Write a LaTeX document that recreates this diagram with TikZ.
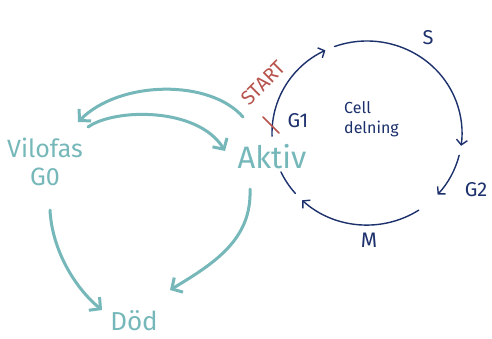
\documentclass[tikz,border=0pt]{standalone}
\usepackage{fontspec}
\setmainfont{Fira Sans}
\usetikzlibrary{arrows.meta}
\definecolor{teal1}{RGB}{118,184,186}
\definecolor{navy1}{RGB}{28,48,108}
\definecolor{red1}{RGB}{184,84,78}
\tikzset{
  tlabel/.style={text=teal1, inner sep=1pt, align=center},
  blabel/.style={text=navy1, inner sep=1pt},
  tarrow/.style={draw=teal1, line width=3pt, line cap=round, -{Straight Barb[length=8pt,width=17pt]}},
  barrow/.style={draw=navy1, line width=1.4pt, line cap=round},
  bhead/.style={-{Straight Barb[length=5pt,width=11pt]}}
}
\begin{document}
\begin{tikzpicture}[x=1pt,y=-1pt]
\useasboundingbox[fill=white] (0,0) rectangle (492,338);
% teal nodes
\node[tlabel, font=\fontsize{25}{28}\selectfont] (vilo) at (45,162) {Vilofas\\G0};
\node[tlabel, font=\fontsize{31}{34}\selectfont] (aktiv) at (272,157) {Aktiv};
\node[tlabel, font=\fontsize{26}{28}\selectfont] (dod) at (134,321) {Död};
% teal arrows
\draw[tarrow] ([shift={(-29,-40)}]aktiv.center) .. controls +(-33,-38) and +(42,-42) .. ([shift={(33,-40)}]vilo.center);
\draw[tarrow] ([shift={(43,-35)}]vilo.center) .. controls +(27,-19) and +(-27,-44) .. ([shift={(-47,-6)}]aktiv.center);
\draw[tarrow] ([shift={(5,48)}]vilo.center) .. controls +(2,40) and +(-27,-22) .. ([shift={(-32,-11)}]dod.center);
\draw[tarrow] ([shift={(-22,32)}]aktiv.center) .. controls +(2,50) and +(45,-27) .. ([shift={(36,-31)}]dod.center);
% cell cycle
\coordinate (cc) at (367,133);
\draw[barrow] (cc) ++(139:95 and 92) arc[start angle=139,end angle=155,x radius=95,y radius=92];
\draw[barrow,bhead] (cc) ++(178:95 and 92) arc[start angle=178,end angle=244,x radius=95,y radius=92];
\draw[barrow,bhead] (cc) ++(250:95 and 92) arc[start angle=250,end angle=368,x radius=95,y radius=92];
\draw[barrow,bhead] (cc) ++(14:95 and 92) arc[start angle=14,end angle=42,x radius=95,y radius=92];
\draw[barrow,bhead] (cc) ++(57:95 and 92) arc[start angle=57,end angle=133,x radius=95,y radius=92];
% labels
\node[blabel, font=\fontsize{20}{22}\selectfont] (g1) at (298,121) {G1};
\node[blabel, font=\fontsize{20}{22}\selectfont] (s) at (428,38) {S};
\node[blabel, font=\fontsize{20}{22}\selectfont] (g2) at (476,190) {G2};
\node[blabel, font=\fontsize{21}{22}\selectfont] (m) at (369,240) {M};
\node[blabel, font=\fontsize{16}{20}\selectfont, align=left, anchor=west] (cell) at (343,119) {Cell\\delning};
\node[text=red1, inner sep=0pt, rotate=45, font=\fontsize{20}{20}\selectfont] (start) at (263,83) {START};
\coordinate (xa) at (263,117);
\coordinate (xb) at (279,133);
\draw[draw=red1, line width=1.6pt, line cap=round] (xa) -- (xb);
\end{tikzpicture}
\end{document}
